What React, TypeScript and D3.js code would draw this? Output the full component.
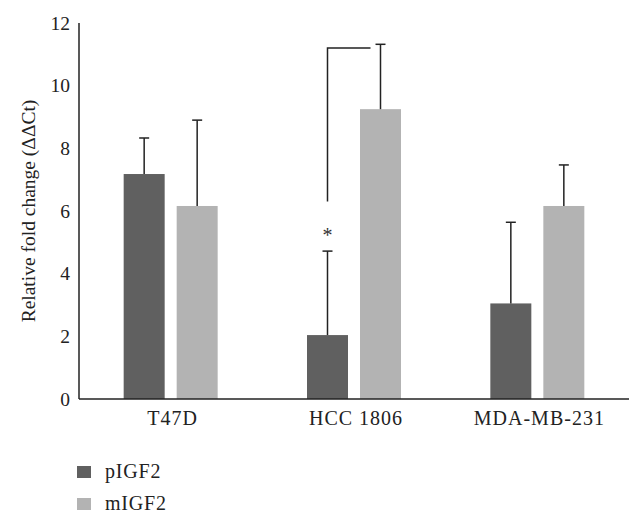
import * as d3 from "d3";

const categories = ["T47D", "HCC 1806", "MDA-MB-231"];
const seriesNames = ["pIGF2", "mIGF2"];
const pIGF2 = [7.18, 2.04, 3.05];
const pIGF2Err = [1.15, 2.68, 2.59];
const mIGF2 = [6.16, 9.25, 6.16];
const mIGF2Err = [2.74, 2.07, 1.31];
const yTicks = [0, 2, 4, 6, 8, 10, 12];
// significance bracket on HCC 1806 (y values)
const sigLow = 6.3;
const sigHigh = 11.2;
const sigStar = 5.35;

const colors = ["#606060", "#b3b3b3"];
const font = "'Liberation Serif', 'DejaVu Serif', serif";

export default function App() {
  const width = 643;
  const height = 524;
  const marginLeft = 79;
  const marginRight = 14;
  const marginTop = 23;
  const axisY = 399;

  const x0 = d3.scaleBand<string>().domain(categories).range([marginLeft, width - marginRight]);
  const x1 = d3.scaleBand<string>().domain(seriesNames).range([-47, 47]).paddingInner(12 / 53);
  const y = d3.scaleLinear().domain([0, 12]).range([axisY, marginTop]);

  const values = [pIGF2, mIGF2];
  const errs = [pIGF2Err, mIGF2Err];
  const bw = x1.bandwidth();
  const cap = 5;

  const center = (c: string, s: string) => x0(c)! + x0.bandwidth() / 2 + x1(s)! + bw / 2;
  const hccP = center(categories[1], seriesNames[0]);
  const hccM = center(categories[1], seriesNames[1]);

  return (
    <svg
      width={width}
      height={height}
      style={{ position: "absolute", left: 0, top: 0, background: "#fff" }}
      fontFamily={font}
    >
      {/* bars */}
      {seriesNames.map((s, si) =>
        categories.map((c, ci) => (
          <rect
            key={s + c}
            x={x0(c)! + x0.bandwidth() / 2 + x1(s)!}
            y={y(values[si][ci])}
            width={bw}
            height={y(0) - y(values[si][ci])}
            fill={colors[si]}
          />
        ))
      )}
      {/* error bars */}
      {seriesNames.map((s, si) =>
        categories.map((c, ci) => {
          const cx = center(c, s);
          const top = y(values[si][ci] + errs[si][ci]);
          return (
            <g key={"e" + s + c} stroke="#222" strokeWidth={1.5}>
              <line x1={cx} x2={cx} y1={y(values[si][ci])} y2={top} />
              <line x1={cx - cap} x2={cx + cap} y1={top} y2={top} />
            </g>
          );
        })
      )}
      {/* significance bracket */}
      <path
        d={`M${hccP},${y(sigLow)}V${y(sigHigh)}H${hccM - 10}`}
        fill="none"
        stroke="#222"
        strokeWidth={1.5}
      />
      <text x={hccP} y={y(sigStar) + 11} textAnchor="middle" fontSize={20} fill="#333">
        *
      </text>
      {/* axes */}
      <line x1={marginLeft} x2={marginLeft} y1={y(12)} y2={axisY} stroke="#222" strokeWidth={1.5} />
      <line x1={marginLeft} x2={width - marginRight} y1={axisY} y2={axisY} stroke="#222" strokeWidth={1.5} />
      {yTicks.map((t) => (
        <text key={t} x={70} y={y(t)} dy="0.34em" textAnchor="end" fontSize={19.5} fill="#222">
          {t}
        </text>
      ))}
      {categories.map((c) => (
        <text
          key={c}
          x={x0(c)! + x0.bandwidth() / 2 + 2}
          y={425}
          textAnchor="middle"
          fontSize={20}
          letterSpacing={1}
          fill="#222"
        >
          {c}
        </text>
      ))}
      <text
        transform={`translate(35,${(y(0) + y(12)) / 2}) rotate(-90)`}
        textAnchor="middle"
        fontSize={19.5}
        fill="#222"
      >
        Relative fold change (ΔΔCt)
      </text>
      {/* legend */}
      {seriesNames.map((s, i) => (
        <g key={"l" + s} transform={`translate(77,${466 + i * 32})`}>
          <rect width={14} height={12} fill={colors[i]} />
          <text x={28} y={12} fontSize={20} letterSpacing={0.8} fill="#222">
            {s}
          </text>
        </g>
      ))}
    </svg>
  );
}
